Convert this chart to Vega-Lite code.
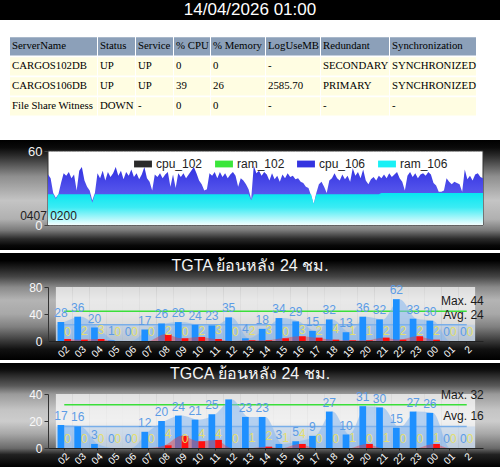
{
"$schema":"https://vega.github.io/schema/vega-lite/v6.json",
"background":"#ffffff",
"padding":0,
"spacing":3,
"config":{"view":{"stroke":null},"font":"Liberation Sans","axis":{"labelOverlap":false}},
"datasets":{
"tbl":[
{"row":"0","ServerName":"ServerName","Status":"Status","Service":"Service","CPU":"% CPU","Memory":"% Memory","LogUseMB":"LogUseMB","Redundant":"Redundant","Synchronization":"Synchronization"},
{"row":"1","ServerName":"CARGOS102DB","Status":"UP","Service":"UP","CPU":"0","Memory":"0","LogUseMB":"-","Redundant":"SECONDARY","Synchronization":"SYNCHRONIZED"},
{"row":"2","ServerName":"CARGOS106DB","Status":"UP","Service":"UP","CPU":"39","Memory":"26","LogUseMB":"2585.70","Redundant":"PRIMARY","Synchronization":"SYNCHRONIZED"},
{"row":"3","ServerName":"File Share Witness","Status":"DOWN","Service":"-","CPU":"0","Memory":"0","LogUseMB":"-","Redundant":"-","Synchronization":"-"}
],
"perf":[
{"t":"0407 02","cpu":41,"ram":25},{"t":"0407 03","cpu":38,"ram":25},{"t":"0407 04","cpu":26,"ram":25},{"t":"0407 05","cpu":22,"ram":21},{"t":"0407 06","cpu":25,"ram":25},{"t":"0407 07","cpu":34,"ram":25},{"t":"0407 08","cpu":42,"ram":25},{"t":"0407 09","cpu":40,"ram":25},{"t":"0407 10","cpu":43,"ram":25},{"t":"0407 11","cpu":38,"ram":25},{"t":"0407 12","cpu":41,"ram":25},{"t":"0407 13","cpu":28,"ram":25},{"t":"0407 14","cpu":44,"ram":25},{"t":"0407 15","cpu":47,"ram":25},{"t":"0407 16","cpu":36,"ram":25},{"t":"0407 17","cpu":31,"ram":25},{"t":"0407 18","cpu":28,"ram":25},{"t":"0407 19","cpu":20,"ram":18},{"t":"0407 20","cpu":26,"ram":25},{"t":"0407 21","cpu":42,"ram":25},{"t":"0407 22","cpu":38,"ram":25},{"t":"0407 23","cpu":44,"ram":25},
{"t":"0408 00","cpu":36,"ram":25},{"t":"0408 01","cpu":43,"ram":25},{"t":"0408 02","cpu":39,"ram":25},{"t":"0408 03","cpu":42,"ram":25},{"t":"0408 04","cpu":47,"ram":25},{"t":"0408 05","cpu":40,"ram":25},{"t":"0408 06","cpu":44,"ram":25},{"t":"0408 07","cpu":37,"ram":25},{"t":"0408 08","cpu":43,"ram":25},{"t":"0408 09","cpu":40,"ram":25},{"t":"0408 10","cpu":45,"ram":25},{"t":"0408 11","cpu":39,"ram":25},{"t":"0408 12","cpu":42,"ram":25},{"t":"0408 13","cpu":37,"ram":25},{"t":"0408 14","cpu":41,"ram":25},{"t":"0408 15","cpu":47,"ram":25},{"t":"0408 16","cpu":38,"ram":25},{"t":"0408 17","cpu":35,"ram":25},{"t":"0408 18","cpu":28,"ram":25},{"t":"0408 19","cpu":41,"ram":25},{"t":"0408 20","cpu":39,"ram":25},{"t":"0408 21","cpu":42,"ram":25},{"t":"0408 22","cpu":38,"ram":25},{"t":"0408 23","cpu":41,"ram":25},
{"t":"0409 00","cpu":43,"ram":25},{"t":"0409 01","cpu":31,"ram":25},{"t":"0409 02","cpu":41,"ram":25},{"t":"0409 03","cpu":30,"ram":25},{"t":"0409 04","cpu":42,"ram":25},{"t":"0409 05","cpu":39,"ram":25},{"t":"0409 06","cpu":42,"ram":25},{"t":"0409 07","cpu":38,"ram":25},{"t":"0409 08","cpu":41,"ram":25},{"t":"0409 09","cpu":44,"ram":25},{"t":"0409 10","cpu":47,"ram":25},{"t":"0409 11","cpu":42,"ram":25},{"t":"0409 12","cpu":36,"ram":25},{"t":"0409 13","cpu":33,"ram":25},{"t":"0409 14","cpu":28,"ram":25},{"t":"0409 15","cpu":29,"ram":25},{"t":"0409 16","cpu":42,"ram":25},{"t":"0409 17","cpu":40,"ram":25},{"t":"0409 18","cpu":43,"ram":25},{"t":"0409 19","cpu":38,"ram":25},{"t":"0409 20","cpu":43,"ram":25},{"t":"0409 21","cpu":39,"ram":25},{"t":"0409 22","cpu":42,"ram":25},{"t":"0409 23","cpu":38,"ram":25},
{"t":"0410 00","cpu":41,"ram":25},{"t":"0410 01","cpu":43,"ram":25},{"t":"0410 02","cpu":40,"ram":25},{"t":"0410 03","cpu":31,"ram":25},{"t":"0410 04","cpu":38,"ram":25},{"t":"0410 05","cpu":36,"ram":25},{"t":"0410 06","cpu":33,"ram":25},{"t":"0410 07","cpu":29,"ram":25},{"t":"0410 08","cpu":21,"ram":20},{"t":"0410 09","cpu":48,"ram":25},{"t":"0410 10","cpu":42,"ram":25},{"t":"0410 11","cpu":44,"ram":25},{"t":"0410 12","cpu":40,"ram":25},{"t":"0410 13","cpu":43,"ram":25},{"t":"0410 14","cpu":41,"ram":25},{"t":"0410 15","cpu":36,"ram":25},{"t":"0410 16","cpu":42,"ram":25},{"t":"0410 17","cpu":37,"ram":25},{"t":"0410 18","cpu":40,"ram":25},{"t":"0410 19","cpu":35,"ram":25},{"t":"0410 20","cpu":41,"ram":25},{"t":"0410 21","cpu":38,"ram":25},{"t":"0410 22","cpu":42,"ram":25},{"t":"0410 23","cpu":39,"ram":25},
{"t":"0411 00","cpu":40,"ram":25},{"t":"0411 01","cpu":37,"ram":25},{"t":"0411 02","cpu":38,"ram":25},{"t":"0411 03","cpu":35,"ram":25},{"t":"0411 04","cpu":34,"ram":25},{"t":"0411 05","cpu":31,"ram":25},{"t":"0411 06","cpu":30,"ram":25},{"t":"0411 07","cpu":24,"ram":25},{"t":"0411 08","cpu":17,"ram":17},{"t":"0411 09","cpu":26,"ram":25},{"t":"0411 10","cpu":33,"ram":25},{"t":"0411 11","cpu":35,"ram":25},{"t":"0411 12","cpu":31,"ram":25},{"t":"0411 13","cpu":26,"ram":25},{"t":"0411 14","cpu":36,"ram":25},{"t":"0411 15","cpu":38,"ram":25},{"t":"0411 16","cpu":42,"ram":25},{"t":"0411 17","cpu":38,"ram":25},{"t":"0411 18","cpu":36,"ram":25},{"t":"0411 19","cpu":41,"ram":25},{"t":"0411 20","cpu":37,"ram":25},{"t":"0411 21","cpu":40,"ram":25},{"t":"0411 22","cpu":35,"ram":25},{"t":"0411 23","cpu":46,"ram":25},
{"t":"0412 00","cpu":40,"ram":25},{"t":"0412 01","cpu":43,"ram":25},{"t":"0412 02","cpu":38,"ram":25},{"t":"0412 03","cpu":45,"ram":25},{"t":"0412 04","cpu":36,"ram":25},{"t":"0412 05","cpu":33,"ram":25},{"t":"0412 06","cpu":37,"ram":25},{"t":"0412 07","cpu":39,"ram":25},{"t":"0412 08","cpu":36,"ram":25},{"t":"0412 09","cpu":40,"ram":25},{"t":"0412 10","cpu":38,"ram":26},{"t":"0412 11","cpu":41,"ram":26},{"t":"0412 12","cpu":38,"ram":26},{"t":"0412 13","cpu":42,"ram":26},{"t":"0412 14","cpu":39,"ram":26},{"t":"0412 15","cpu":41,"ram":26},{"t":"0412 16","cpu":43,"ram":26},{"t":"0412 17","cpu":38,"ram":26},{"t":"0412 18","cpu":35,"ram":26},{"t":"0412 19","cpu":28,"ram":26},{"t":"0412 20","cpu":40,"ram":26},{"t":"0412 21","cpu":43,"ram":26},{"t":"0412 22","cpu":39,"ram":26},{"t":"0412 23","cpu":42,"ram":26},
{"t":"0413 00","cpu":38,"ram":26},{"t":"0413 01","cpu":41,"ram":26},{"t":"0413 02","cpu":42,"ram":26},{"t":"0413 03","cpu":40,"ram":26},{"t":"0413 04","cpu":43,"ram":26},{"t":"0413 05","cpu":41,"ram":26},{"t":"0413 06","cpu":34,"ram":26},{"t":"0413 07","cpu":32,"ram":26},{"t":"0413 08","cpu":27,"ram":26},{"t":"0413 09","cpu":27,"ram":26},{"t":"0413 10","cpu":28,"ram":26},{"t":"0413 11","cpu":38,"ram":26},{"t":"0413 12","cpu":35,"ram":26},{"t":"0413 13","cpu":33,"ram":26},{"t":"0413 14","cpu":35,"ram":26},{"t":"0413 15","cpu":34,"ram":26},{"t":"0413 16","cpu":33,"ram":26},{"t":"0413 17","cpu":27,"ram":26},{"t":"0413 18","cpu":45,"ram":26},{"t":"0413 19","cpu":37,"ram":26},{"t":"0413 20","cpu":40,"ram":26},{"t":"0413 21","cpu":36,"ram":26},{"t":"0413 22","cpu":41,"ram":26},{"t":"0413 23","cpu":42,"ram":26},
{"t":"0414 00","cpu":39,"ram":26},{"t":"0414 01","cpu":38,"ram":26}
],
"tgta":[
{"h":"02","v1":28,"v2":0,"v3":3},{"h":"03","v1":36,"v2":2,"v3":2},{"h":"04","v1":20,"v2":3,"v3":3},{"h":"05","v1":1,"v2":0,"v3":0},{"h":"06","v1":0,"v2":0,"v3":0},{"h":"07","v1":17,"v2":0,"v3":0},{"h":"08","v1":26,"v2":2,"v3":10},{"h":"09","v1":28,"v2":0,"v3":4},{"h":"10","v1":24,"v2":2,"v3":6},{"h":"11","v1":23,"v2":3,"v3":3},{"h":"12","v1":35,"v2":0,"v3":0},{"h":"13","v1":4,"v2":2,"v3":1},{"h":"14","v1":18,"v2":3,"v3":1},{"h":"15","v1":34,"v2":0,"v3":4},{"h":"16","v1":29,"v2":3,"v3":7},{"h":"17","v1":15,"v2":2,"v3":5},{"h":"18","v1":32,"v2":4,"v3":2},{"h":"19","v1":13,"v2":1,"v3":1},{"h":"20","v1":36,"v2":1,"v3":1},{"h":"21","v1":32,"v2":2,"v3":5},{"h":"22","v1":62,"v2":2,"v3":2},{"h":"23","v1":33,"v2":2,"v3":7},{"h":"00","v1":30,"v2":2,"v3":2},{"h":"01","v1":0,"v2":0,"v3":0},{"h":"2","v1":0,"v2":0,"v3":0}
],
"tgca":[
{"h":"02","v1":17,"v2":0,"v3":0},{"h":"03","v1":16,"v2":0,"v3":0},{"h":"04","v1":3,"v2":0,"v3":0},{"h":"05","v1":0,"v2":0,"v3":0},{"h":"06","v1":0,"v2":0,"v3":0},{"h":"07","v1":12,"v2":0,"v3":0},{"h":"08","v1":20,"v2":4,"v3":2},{"h":"09","v1":24,"v2":0,"v3":9},{"h":"10","v1":21,"v2":4,"v3":5},{"h":"11","v1":25,"v2":4,"v3":6},{"h":"12","v1":36,"v2":0,"v3":0},{"h":"13","v1":23,"v2":1,"v3":0},{"h":"14","v1":23,"v2":2,"v3":1},{"h":"15","v1":3,"v2":1,"v3":0},{"h":"16","v1":5,"v2":4,"v3":3},{"h":"17","v1":9,"v2":0,"v3":0},{"h":"18","v1":27,"v2":0,"v3":0},{"h":"19","v1":10,"v2":1,"v3":0},{"h":"20","v1":31,"v2":0,"v3":3},{"h":"21","v1":30,"v2":1,"v3":0},{"h":"22","v1":15,"v2":0,"v3":0},{"h":"23","v1":27,"v2":0,"v3":0},{"h":"00","v1":26,"v2":1,"v3":3},{"h":"01","v1":0,"v2":0,"v3":0},{"h":"2","v1":0,"v2":0,"v3":0}
],
"stats":[{"key":"TGTA","max":44,"avg":24},{"key":"TGCA","max":32,"avg":16}]
},
"vconcat":[
{"width":500,"height":20,"view":{"fill":"#000000"},"data":{"values":[{"stamp":"14/04/2026 01:00"}]},"mark":{"type":"text","color":"#ffffff","fontSize":17},"encoding":{"text":{"field":"stamp","type":"nominal"}}},
{"spacing":1,"hconcat":[
{"width":9,"height":114,"data":{"values":[{}]},"mark":{"type":"point","opacity":0}},
{"width":87,"height":114,"data":{"name":"tbl"},"encoding":{"y":{"field":"row","type":"ordinal","scale":{"paddingInner":0.09,"paddingOuter":0.9,"align":0.4},"axis":null}},"layer":[{"mark":"rect","encoding":{"x":{"value":0},"x2":{"value":"width"},"color":{"condition":{"test":"datum.row === '0'","value":"#8ca0b9"},"value":"#fffde2"}}},{"mark":{"type":"text","align":"left","dx":2,"font":"Liberation Serif","fontSize":10.8,"color":"#000000"},"encoding":{"x":{"value":0},"text":{"field":"ServerName","type":"nominal"}}}]},
{"width":37,"height":114,"data":{"name":"tbl"},"encoding":{"y":{"field":"row","type":"ordinal","scale":{"paddingInner":0.09,"paddingOuter":0.9,"align":0.4},"axis":null}},"layer":[{"mark":"rect","encoding":{"x":{"value":0},"x2":{"value":"width"},"color":{"condition":{"test":"datum.row === '0'","value":"#8ca0b9"},"value":"#fffde2"}}},{"mark":{"type":"text","align":"left","dx":2,"font":"Liberation Serif","fontSize":10.8,"color":"#000000"},"encoding":{"x":{"value":0},"text":{"field":"Status","type":"nominal"}}}]},
{"width":37,"height":114,"data":{"name":"tbl"},"encoding":{"y":{"field":"row","type":"ordinal","scale":{"paddingInner":0.09,"paddingOuter":0.9,"align":0.4},"axis":null}},"layer":[{"mark":"rect","encoding":{"x":{"value":0},"x2":{"value":"width"},"color":{"condition":{"test":"datum.row === '0'","value":"#8ca0b9"},"value":"#fffde2"}}},{"mark":{"type":"text","align":"left","dx":2,"font":"Liberation Serif","fontSize":10.8,"color":"#000000"},"encoding":{"x":{"value":0},"text":{"field":"Service","type":"nominal"}}}]},
{"width":36,"height":114,"data":{"name":"tbl"},"encoding":{"y":{"field":"row","type":"ordinal","scale":{"paddingInner":0.09,"paddingOuter":0.9,"align":0.4},"axis":null}},"layer":[{"mark":"rect","encoding":{"x":{"value":0},"x2":{"value":"width"},"color":{"condition":{"test":"datum.row === '0'","value":"#8ca0b9"},"value":"#fffde2"}}},{"mark":{"type":"text","align":"left","dx":2,"font":"Liberation Serif","fontSize":10.8,"color":"#000000"},"encoding":{"x":{"value":0},"text":{"field":"CPU","type":"nominal"}}}]},
{"width":54,"height":114,"data":{"name":"tbl"},"encoding":{"y":{"field":"row","type":"ordinal","scale":{"paddingInner":0.09,"paddingOuter":0.9,"align":0.4},"axis":null}},"layer":[{"mark":"rect","encoding":{"x":{"value":0},"x2":{"value":"width"},"color":{"condition":{"test":"datum.row === '0'","value":"#8ca0b9"},"value":"#fffde2"}}},{"mark":{"type":"text","align":"left","dx":2,"font":"Liberation Serif","fontSize":10.8,"color":"#000000"},"encoding":{"x":{"value":0},"text":{"field":"Memory","type":"nominal"}}}]},
{"width":54,"height":114,"data":{"name":"tbl"},"encoding":{"y":{"field":"row","type":"ordinal","scale":{"paddingInner":0.09,"paddingOuter":0.9,"align":0.4},"axis":null}},"layer":[{"mark":"rect","encoding":{"x":{"value":0},"x2":{"value":"width"},"color":{"condition":{"test":"datum.row === '0'","value":"#8ca0b9"},"value":"#fffde2"}}},{"mark":{"type":"text","align":"left","dx":2,"font":"Liberation Serif","fontSize":10.8,"color":"#000000"},"encoding":{"x":{"value":0},"text":{"field":"LogUseMB","type":"nominal"}}}]},
{"width":68,"height":114,"data":{"name":"tbl"},"encoding":{"y":{"field":"row","type":"ordinal","scale":{"paddingInner":0.09,"paddingOuter":0.9,"align":0.4},"axis":null}},"layer":[{"mark":"rect","encoding":{"x":{"value":0},"x2":{"value":"width"},"color":{"condition":{"test":"datum.row === '0'","value":"#8ca0b9"},"value":"#fffde2"}}},{"mark":{"type":"text","align":"left","dx":2,"font":"Liberation Serif","fontSize":10.8,"color":"#000000"},"encoding":{"x":{"value":0},"text":{"field":"Redundant","type":"nominal"}}}]},
{"width":86,"height":114,"data":{"name":"tbl"},"encoding":{"y":{"field":"row","type":"ordinal","scale":{"paddingInner":0.09,"paddingOuter":0.9,"align":0.4},"axis":null}},"layer":[{"mark":"rect","encoding":{"x":{"value":0},"x2":{"value":"width"},"color":{"condition":{"test":"datum.row === '0'","value":"#8ca0b9"},"value":"#fffde2"}}},{"mark":{"type":"text","align":"left","dx":2,"font":"Liberation Serif","fontSize":10.8,"color":"#000000"},"encoding":{"x":{"value":0},"text":{"field":"Synchronization","type":"nominal"}}}]}
]},
{"width":500,"height":110,
"view":{"fill":{"gradient":"linear","x1":0,"y1":0,"x2":0,"y2":1,"stops":[{"offset":0,"color":"#000000"},{"offset":0.07,"color":"#0a0a0a"},{"offset":0.14,"color":"#2a2a2a"},{"offset":0.33,"color":"#8e8e8e"},{"offset":0.55,"color":"#c4c4c4"},{"offset":0.72,"color":"#b0b0b0"},{"offset":0.82,"color":"#7a7a7a"},{"offset":0.9,"color":"#2a2a2a"},{"offset":0.96,"color":"#080808"},{"offset":1,"color":"#000000"}]}},
"data":{"name":"perf","format":{"parse":{"t":"date:'%m%d %H'"}}},
"layer":[
{"mark":{"type":"area","fill":"#ffffff","stroke":"#333333","strokeWidth":1},
 "encoding":{"x":{"field":"t","type":"temporal","scale":{"range":[48,483],"nice":false},"title":null,"axis":{"offset":-25,"zindex":1,"values":[{"year":1900,"month":4,"date":7,"hours":2}],"format":"%m%d %H%M","labelFlush":false,"domain":false,"ticks":false,"grid":false,"labelPadding":-15,"labelColor":"#222222","labelFontSize":12}},
 "y":{"datum":60,"type":"quantitative","stack":null,"scale":{"domain":[0,60],"range":[85,11],"nice":false},"title":null,"axis":{"offset":-48,"values":[0,20,40,60],"labelOverlap":false,"labelSeparation":-40,"labelFlush":false,"grid":false,"labelColor":"#f4f4f4","labelFontSize":13,"tickSize":4,"tickColor":"#444444","domainColor":"#444444","labelPadding":2}}}},
{"mark":{"type":"area","color":{"gradient":"linear","x1":0,"y1":0,"x2":0,"y2":1,"stops":[{"offset":0,"color":"#3030e0"},{"offset":0.5,"color":"#5a5aee"},{"offset":1,"color":"#9a9afa"}]}},
 "encoding":{"x":{"field":"t","type":"temporal","title":null},
 "y":{"field":"cpu","type":"quantitative","scale":{"domain":[0,60],"range":[85,11],"nice":false},"title":null}}},
{"mark":{"type":"area","color":{"gradient":"linear","x1":0,"y1":0,"x2":0,"y2":1,"stops":[{"offset":0,"color":"#08e6f0"},{"offset":0.45,"color":"#3cecf4"},{"offset":1,"color":"#f2fdfe"}]}},
 "encoding":{"x":{"field":"t","type":"temporal","title":null},
 "y":{"field":"ram","type":"quantitative","scale":{"domain":[0,60],"range":[85,11],"nice":false},"title":null}}},
{"data":{"values":[{"s":"cpu_102"},{"s":"ram_102"},{"s":"cpu_106"},{"s":"ram_106"}]},
 "mark":{"type":"point","filled":true,"opacity":0},
 "encoding":{"color":{"field":"s","type":"nominal","scale":{"domain":["cpu_102","ram_102","cpu_106","ram_106"],"range":["#2a2a2a","#3ae63a","#3434e0","#19f0f5"]},"legend":{"orient":"none","legendX":134,"legendY":155,"direction":"horizontal","title":null,"symbolType":"M-1,-0.38H1V0.38H-1Z","symbolSize":320,"symbolOpacity":1,"symbolStrokeWidth":0,"labelFontSize":12,"labelColor":"#222222","columnPadding":12,"labelOffset":4,"padding":0}}}}
]},
{"width":500,"height":107,
"view":{"fill":{"gradient":"linear","x1":0,"y1":0,"x2":0,"y2":1,"stops":[{"offset":0,"color":"#000000"},{"offset":0.07,"color":"#000000"},{"offset":0.13,"color":"#1a1a1a"},{"offset":0.22,"color":"#444444"},{"offset":0.32,"color":"#8a8a8a"},{"offset":0.44,"color":"#b4b4b4"},{"offset":0.57,"color":"#a8a8a8"},{"offset":0.69,"color":"#808080"},{"offset":0.82,"color":"#3a3a3a"},{"offset":0.9,"color":"#111111"},{"offset":1,"color":"#000000"}]}},
"title":{"text":"TGTA ย้อนหลัง 24 ชม.","offset":-21,"color":"#f4f4f4","fontSize":16,"fontWeight":"normal","anchor":"middle"},
"data":{"name":"tgta"},
"transform":[{"calculate":"'TGTA'","as":"key"},{"lookup":"key","from":{"data":{"name":"stats"},"key":"key","fields":["max","avg"]}}],
"encoding":{"x":{"field":"h","type":"nominal","sort":null,"scale":{"type":"band","domain":["02","03","04","05","06","07","08","09","10","11","12","13","14","15","16","17","18","19","20","21","22","23","00","01","2"],"range":[48,483],"paddingInner":0,"paddingOuter":0.47},"title":null,"axis":{"offset":-19,"labelAngle":-45,"labelColor":"#ffffff","labelFontSize":10,"tickSize":2,"tickColor":"#222222","domainColor":"#222222","labelPadding":1}}},
"layer":[
{"mark":{"type":"bar","width":{"band":1},"color":"#ffffff","opacity":0.7},
 "encoding":{"y":{"datum":80,"type":"quantitative","stack":null,"scale":{"domain":[0,80],"range":[88,34],"nice":false},"title":null,"axis":{"offset":-48,"values":[0,20,40,60,80],"labelOverlap":false,"labelSeparation":-40,"labelFlush":false,"grid":false,"labelColor":"#f8f8f8","labelFontSize":12,"tickSize":4,"tickColor":"#333333","domainColor":"#333333","labelPadding":2}}}},
{"mark":{"type":"bar","width":{"band":1},"color":"#9fc4ef","opacity":0.35},
 "encoding":{"y":{"field":"avg","type":"quantitative","scale":{"domain":[0,80],"range":[88,34],"nice":false},"title":null}}},
{"mark":{"type":"line","color":"#79aee9","strokeWidth":1.5},
 "encoding":{"y":{"field":"avg","type":"quantitative","scale":{"domain":[0,80],"range":[88,34],"nice":false},"title":null}}},
{"mark":{"type":"line","color":"#3adf3a","strokeWidth":1.5},
 "encoding":{"y":{"field":"max","type":"quantitative","scale":{"domain":[0,80],"range":[88,34],"nice":false},"title":null}}},
{"mark":{"type":"area","interpolate":"monotone","color":"#84b6f0","opacity":0.55},
 "encoding":{"y":{"field":"v1","type":"quantitative","scale":{"domain":[0,80],"range":[88,34],"nice":false},"title":null}}},
{"mark":{"type":"bar","width":6.7,"xOffset":-3.35,"color":"#1e90ff"},
 "encoding":{"y":{"field":"v1","type":"quantitative","scale":{"domain":[0,80],"range":[88,34],"nice":false},"title":null}}},
{"mark":{"type":"area","interpolate":"monotone","color":"#f03c3c","opacity":0.45},
 "encoding":{"y":{"field":"v3","type":"quantitative","scale":{"domain":[0,80],"range":[88,34],"nice":false},"title":null}}},
{"mark":{"type":"bar","width":6.7,"xOffset":3.35,"color":"#ff1010"},
 "encoding":{"y":{"field":"v3","type":"quantitative","scale":{"domain":[0,80],"range":[88,34],"nice":false},"title":null}}},
{"mark":{"type":"text","xOffset":-3.35,"dy":-9,"color":"#5c9ce6","fontSize":12},
 "encoding":{"y":{"field":"v1","type":"quantitative","scale":{"domain":[0,80],"range":[88,34],"nice":false},"title":null},"text":{"field":"v1","type":"quantitative"}}},
{"mark":{"type":"text","xOffset":3.35,"dy":-9,"color":"#e3df6e","fontSize":12},
 "encoding":{"y":{"field":"v2","type":"quantitative","scale":{"domain":[0,80],"range":[88,34],"nice":false},"title":null},"text":{"field":"v2","type":"quantitative"}}},
{"transform":[{"filter":"datum.h === '2'"},{"calculate":"'Max. ' + datum.max","as":"label"}],"mark":{"type":"text","align":"right","dx":17,"dy":-10,"fontSize":12,"color":"#1a1a1a"},
 "encoding":{"y":{"field":"max","type":"quantitative","scale":{"domain":[0,80],"range":[88,34],"nice":false},"title":null},"text":{"field":"label","type":"nominal"}}},
{"transform":[{"filter":"datum.h === '2'"},{"calculate":"'Avg. ' + datum.avg","as":"label"}],"mark":{"type":"text","align":"right","dx":17,"dy":-10,"fontSize":12,"color":"#1a1a1a"},
 "encoding":{"y":{"field":"avg","type":"quantitative","scale":{"domain":[0,80],"range":[88,34],"nice":false},"title":null},"text":{"field":"label","type":"nominal"}}}
]},
{"width":500,"height":104,
"view":{"fill":{"gradient":"linear","x1":0,"y1":0,"x2":0,"y2":1,"stops":[{"offset":0,"color":"#000000"},{"offset":0.06,"color":"#0a0a0a"},{"offset":0.12,"color":"#2a2a2a"},{"offset":0.22,"color":"#5a5a5a"},{"offset":0.3,"color":"#9a9a9a"},{"offset":0.45,"color":"#c4c4c4"},{"offset":0.56,"color":"#cccccc"},{"offset":0.68,"color":"#a8a8a8"},{"offset":0.82,"color":"#6a6a6a"},{"offset":0.88,"color":"#222222"},{"offset":1,"color":"#000000"}]}},
"title":{"text":"TGCA ย้อนหลัง 24 ชม.","offset":-19,"color":"#f4f4f4","fontSize":16,"fontWeight":"normal","anchor":"middle"},
"data":{"name":"tgca"},
"transform":[{"calculate":"'TGCA'","as":"key"},{"lookup":"key","from":{"data":{"name":"stats"},"key":"key","fields":["max","avg"]}}],
"encoding":{"x":{"field":"h","type":"nominal","sort":null,"scale":{"type":"band","domain":["02","03","04","05","06","07","08","09","10","11","12","13","14","15","16","17","18","19","20","21","22","23","00","01","2"],"range":[48,483],"paddingInner":0,"paddingOuter":0.47},"title":null,"axis":{"offset":-19,"labelAngle":-45,"labelColor":"#ffffff","labelFontSize":10,"tickSize":2,"tickColor":"#222222","domainColor":"#222222","labelPadding":1}}},
"layer":[
{"mark":{"type":"bar","width":{"band":1},"color":"#ffffff","opacity":0.7},
 "encoding":{"y":{"datum":40,"type":"quantitative","stack":null,"scale":{"domain":[0,40],"range":[85,31],"nice":false},"title":null,"axis":{"offset":-48,"values":[0,20,40],"labelOverlap":false,"labelSeparation":-40,"labelFlush":false,"grid":false,"labelColor":"#f8f8f8","labelFontSize":12,"tickSize":4,"tickColor":"#333333","domainColor":"#333333","labelPadding":2}}}},
{"mark":{"type":"bar","width":{"band":1},"color":"#9fc4ef","opacity":0.35},
 "encoding":{"y":{"field":"avg","type":"quantitative","scale":{"domain":[0,40],"range":[85,31],"nice":false},"title":null}}},
{"mark":{"type":"line","color":"#79aee9","strokeWidth":1.5},
 "encoding":{"y":{"field":"avg","type":"quantitative","scale":{"domain":[0,40],"range":[85,31],"nice":false},"title":null}}},
{"mark":{"type":"line","color":"#3adf3a","strokeWidth":1.5},
 "encoding":{"y":{"field":"max","type":"quantitative","scale":{"domain":[0,40],"range":[85,31],"nice":false},"title":null}}},
{"mark":{"type":"area","interpolate":"monotone","color":"#84b6f0","opacity":0.55},
 "encoding":{"y":{"field":"v1","type":"quantitative","scale":{"domain":[0,40],"range":[85,31],"nice":false},"title":null}}},
{"mark":{"type":"bar","width":6.7,"xOffset":-3.35,"color":"#1e90ff"},
 "encoding":{"y":{"field":"v1","type":"quantitative","scale":{"domain":[0,40],"range":[85,31],"nice":false},"title":null}}},
{"mark":{"type":"area","interpolate":"monotone","color":"#f03c3c","opacity":0.45},
 "encoding":{"y":{"field":"v3","type":"quantitative","scale":{"domain":[0,40],"range":[85,31],"nice":false},"title":null}}},
{"mark":{"type":"bar","width":6.7,"xOffset":3.35,"color":"#ff1010"},
 "encoding":{"y":{"field":"v3","type":"quantitative","scale":{"domain":[0,40],"range":[85,31],"nice":false},"title":null}}},
{"transform":[{"filter":"datum.v1 < 35"}],"mark":{"type":"text","xOffset":-3.35,"dy":-9,"color":"#5c9ce6","fontSize":12},
 "encoding":{"y":{"field":"v1","type":"quantitative","scale":{"domain":[0,40],"range":[85,31],"nice":false},"title":null},"text":{"field":"v1","type":"quantitative"}}},
{"mark":{"type":"text","xOffset":3.35,"dy":-9,"color":"#e3df6e","fontSize":12},
 "encoding":{"y":{"field":"v2","type":"quantitative","scale":{"domain":[0,40],"range":[85,31],"nice":false},"title":null},"text":{"field":"v2","type":"quantitative"}}},
{"transform":[{"filter":"datum.h === '2'"},{"calculate":"'Max. ' + datum.max","as":"label"}],"mark":{"type":"text","align":"right","dx":17,"dy":-10,"fontSize":12,"color":"#1a1a1a"},
 "encoding":{"y":{"field":"max","type":"quantitative","scale":{"domain":[0,40],"range":[85,31],"nice":false},"title":null},"text":{"field":"label","type":"nominal"}}},
{"transform":[{"filter":"datum.h === '2'"},{"calculate":"'Avg. ' + datum.avg","as":"label"}],"mark":{"type":"text","align":"right","dx":17,"dy":-10,"fontSize":12,"color":"#1a1a1a"},
 "encoding":{"y":{"field":"avg","type":"quantitative","scale":{"domain":[0,40],"range":[85,31],"nice":false},"title":null},"text":{"field":"label","type":"nominal"}}}
]}
]
}
